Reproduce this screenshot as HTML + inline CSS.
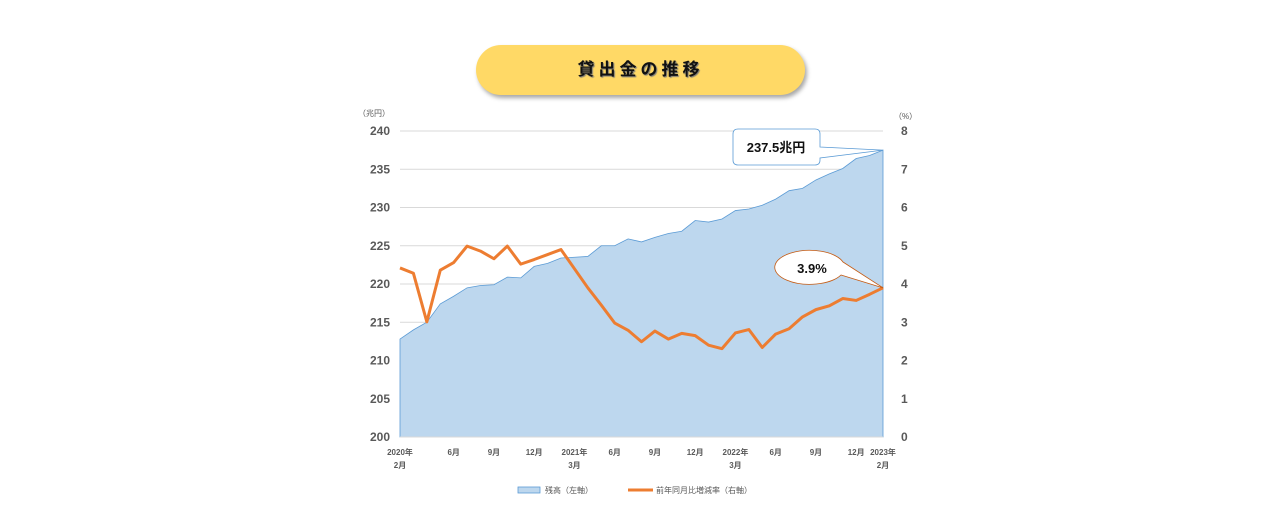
<!DOCTYPE html>
<html><head><meta charset="utf-8">
<style>
body{margin:0;background:#fff;width:1266px;height:523px;overflow:hidden;font-family:"Liberation Sans","Noto Sans CJK JP",sans-serif;}
#title{position:absolute;left:476px;top:45px;width:329px;height:50px;border-radius:25px;background:#FFD966;box-shadow:2px 3px 4px rgba(0,0,0,0.35);text-align:center;line-height:50px;font-size:17px;font-weight:bold;letter-spacing:4px;color:#111;text-shadow:1px 1px 1px #777;}
</style></head><body>
<div id="title">貸出金の推移</div>
<svg id="chart" width="1266" height="523" style="position:absolute;left:0;top:0"></svg>
<script>
const months=["2020年","","","","6月","","","9月","","","12月","","","2021年","","","6月","","","9月","","","12月","","","2022年","","","6月","","","9月","","","12月","","2023年"];
const months2=["2月","","","","","","","","","","","","","3月","","","","","","","","","","","","3月","","","","","","","","","","","2月"];
const balance=[212.8,214,215,217.4,218.4,219.5,219.8,219.9,220.9,220.8,222.3,222.7,223.4,223.5,223.6,225,225,225.9,225.5,226.1,226.6,226.9,228.3,228.1,228.5,229.6,229.8,230.3,231.1,232.2,232.5,233.6,234.4,235.1,236.4,236.8,237.5];
const rate=[4.42,4.28,3.01,4.36,4.56,4.99,4.86,4.66,4.99,4.52,4.64,4.77,4.9,4.4,3.9,3.45,2.98,2.79,2.49,2.77,2.56,2.71,2.65,2.4,2.31,2.72,2.81,2.34,2.69,2.83,3.14,3.33,3.43,3.62,3.57,3.73,3.9];
const leftTicks=[200,205,210,215,220,225,230,235,240];
const rightTicks=[0,1,2,3,4,5,6,7,8];
const X0=400,X1=883,Y0=437,Y1=131;
const x=i=>X0+(X1-X0)*i/(balance.length-1);
const yL=v=>Y0-(v-200)/40*(Y0-Y1);
const yR=v=>Y0-v/8*(Y0-Y1);
const svg=document.getElementById('chart');
const NS='http://www.w3.org/2000/svg';
function mk(t,a,p){const e=document.createElementNS(NS,t);for(const k in a)e.setAttribute(k,a[k]);(p||svg).appendChild(e);return e;}
function tx(s,a){const e=mk('text',Object.assign({'font-size':12,'font-weight':'bold',fill:'#595959'},a));e.textContent=s;return e;}
leftTicks.forEach((v,i)=>{
 if(v>200){const g=mk('line',{x1:X0,x2:X1,y1:yL(v),y2:yL(v),stroke:'#d9d9d9'});
 
 }
 const t=tx(v,{x:390,y:yL(v)+4,'text-anchor':'end'});
 
 
});
rightTicks.forEach(v=>{
 const t=tx(v,{x:901,y:yR(v)+4,'text-anchor':'start'});
 
 
});
let d='M'+X0+' '+Y0;balance.forEach((v,i)=>d+=' L'+x(i)+' '+yL(v));d+=' L'+X1+' '+Y0+' Z';
const area=mk('path',{d:d,fill:'#BDD7EE',stroke:'#5B9BD5','stroke-width':0.8});


const ax=mk('line',{x1:X0,x2:X1,y1:Y0,y2:Y0,stroke:'#d9d9d9'});


let p='';rate.forEach((v,i)=>p+=(i?' L':'M')+x(i)+' '+yR(v));
const ln=mk('path',{d:p,fill:'none',stroke:'#ED7D31','stroke-width':3,'stroke-linejoin':'round'});


months.forEach((m,i)=>{
 if(m){const t=tx(m,{x:x(i),y:455,'text-anchor':'middle','font-size':8});
 
 }
 if(months2[i]){const t=tx(months2[i],{x:x(i),y:468,'text-anchor':'middle','font-size':8});
 
 }
});
const u1=tx('（兆円）',{x:358,y:116,'font-size':8,'font-weight':'normal'});


const u2=tx('（%）',{x:894,y:119,'font-size':8,'font-weight':'normal'});


// callout 1
const lb=balance.length-1;
const c1=mk('path',{d:`M738 129 H815 Q820 129 820 134 V147 L${x(lb)} ${yL(balance[lb])} L820 158 V160 Q820 165 815 165 H738 Q733 165 733 160 V134 Q733 129 738 129 Z`,fill:'#fff',stroke:'#5B9BD5','stroke-width':0.8});


const ct1=tx('237.5兆円',{x:776,y:152,'text-anchor':'middle','font-size':13,fill:'#111'});


// callout 2
const c2=mk('path',{d:`M841 275 A35 17 0 1 1 843 262 L${x(lb)} ${yR(rate[lb])} Z`,fill:'#fff',stroke:'#C55A11','stroke-width':0.8,'stroke-linejoin':'round'});


const ct2=tx('3.9%',{x:812,y:273,'text-anchor':'middle','font-size':13,fill:'#111'});


// legend
const lg1=mk('rect',{x:518,y:487,width:22,height:6,fill:'#BDD7EE',stroke:'#5B9BD5','stroke-width':0.8});


const lt1=tx('残高（左軸）',{x:545,y:493,'font-size':8,'font-weight':'normal'});


const lg2=mk('line',{x1:628,x2:653,y1:490,y2:490,stroke:'#ED7D31','stroke-width':3});


const lt2=tx('前年同月比増減率（右軸）',{x:656,y:493,'font-size':8,'font-weight':'normal'});


</script>
</body></html>
